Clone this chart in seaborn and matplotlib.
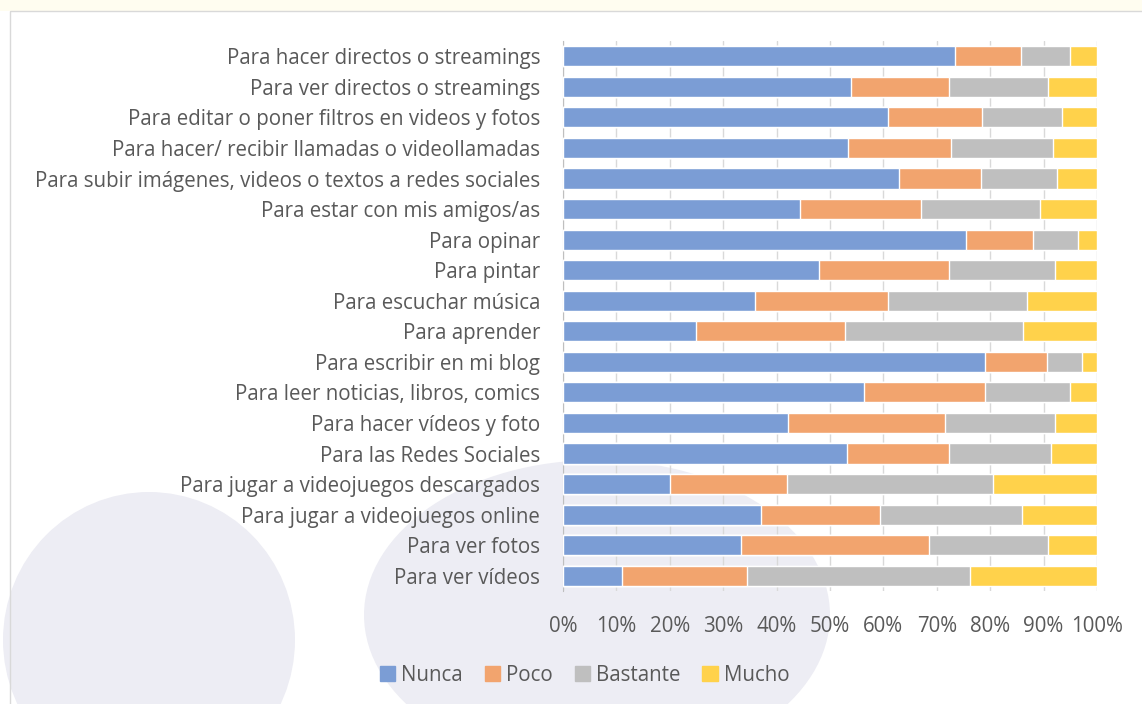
import matplotlib
matplotlib.use("Agg")
import matplotlib.pyplot as plt
from matplotlib.patches import Ellipse, Rectangle
import pandas as pd
import seaborn as sns

categories = [
    "Para hacer directos o streamings",
    "Para ver directos o streamings",
    "Para editar o poner filtros en videos y fotos",
    "Para hacer/ recibir llamadas o videollamadas",
    "Para subir imágenes, videos o textos a redes sociales",
    "Para estar con mis amigos/as",
    "Para opinar",
    "Para pintar",
    "Para escuchar música",
    "Para aprender",
    "Para escribir en mi blog",
    "Para leer noticias, libros, comics",
    "Para hacer vídeos y foto",
    "Para las Redes Sociales",
    "Para jugar a videojuegos descargados",
    "Para jugar a videojuegos online",
    "Para ver fotos",
    "Para ver vídeos",
]
nunca = [73.4, 54.0, 60.9, 53.4, 63.0, 44.4, 75.4, 47.9, 35.9, 24.9, 79.1, 56.3, 42.1, 53.2, 20.0, 37.1, 33.3, 11.0]
poco = [12.3, 18.2, 17.6, 19.3, 15.3, 22.7, 12.6, 24.3, 25.0, 27.9, 11.6, 22.8, 29.5, 19.0, 22.0, 22.3, 35.2, 23.4]
bastante = [9.2, 18.7, 15.0, 19.0, 14.3, 22.2, 8.4, 20.0, 25.9, 33.4, 6.5, 15.9, 20.6, 19.1, 38.6, 26.6, 22.3, 41.9]
mucho = [5.1, 9.1, 6.5, 8.3, 7.4, 10.7, 3.6, 7.8, 13.2, 13.8, 2.8, 5.0, 7.8, 8.7, 19.4, 14.0, 9.2, 23.7]

series = ["Nunca", "Poco", "Bastante", "Mucho"]
colors = ["#7b9dd5", "#f2a46e", "#bfbfbf", "#ffd24b"]

df = pd.DataFrame({"cat": categories, "Nunca": nunca, "Poco": poco,
                   "Bastante": bastante, "Mucho": mucho})
df[series] = df[series].div(df[series].sum(axis=1), axis=0) * 100
cum = df[series].cumsum(axis=1)

sns.set_style("white")
plt.rcParams["font.family"] = ["Open Sans", "DejaVu Sans"]

fig = plt.figure(figsize=(11.42, 7.04), dpi=100)
fig.patch.set_facecolor("white")

# background decoration (page strip, frame, faint circles)
bg = fig.add_axes([0, 0, 1, 1], zorder=-5)
bg.set_xlim(0, 1142); bg.set_ylim(704, 0); bg.axis("off")
bg.add_patch(Rectangle((0, 0), 1142, 11, color="#fffdf0", lw=0))
bg.add_patch(Ellipse((149, 640), 292, 296, color="#ededf4", lw=0))
bg.add_patch(Ellipse((597, 615), 466, 310, color="#ededf4", lw=0))
bg.add_patch(Rectangle((10, 11), 1140, 700, fill=False, ec="#d9d9d9", lw=1))

ax = fig.add_axes([563 / 1142, 1 - 591 / 704, 534 / 1142, 550 / 704])
ax.patch.set_alpha(0)
for name, col in reversed(list(zip(series, colors))):
    sns.barplot(x=cum[name], y=df["cat"], orient="h", color=col, width=0.66,
                ax=ax, saturation=1, zorder=3)

ax.set_xlim(0, 100)
ax.set_ylim(17.5, -0.5)
ax.set_xticks(range(0, 101, 10))
ax.set_xticklabels([f"{v}%" for v in range(0, 101, 10)])
ax.grid(axis="x", color="#d9d9d9", lw=1, zorder=0)
ax.set_xlabel(""); ax.set_ylabel("")
for s in ["top", "right", "bottom"]:
    ax.spines[s].set_visible(False)
ax.spines["left"].set_color("#bfbfbf")
ax.tick_params(axis="both", length=0, labelsize=14.8, labelcolor="#595959")
ax.tick_params(axis="x", pad=18)
ax.tick_params(axis="y", pad=16.5)

handles = [Rectangle((0, 0), 1, 1, color=c) for c in colors]
fig.legend(handles, series, loc="center", bbox_to_anchor=(0.512, 0.041), ncol=4,
           frameon=False, fontsize=14.8, labelcolor="#595959", handlelength=0.75,
           handleheight=0.75, handletextpad=0.3, columnspacing=1.05)

fig.savefig("out.png", dpi=100)
